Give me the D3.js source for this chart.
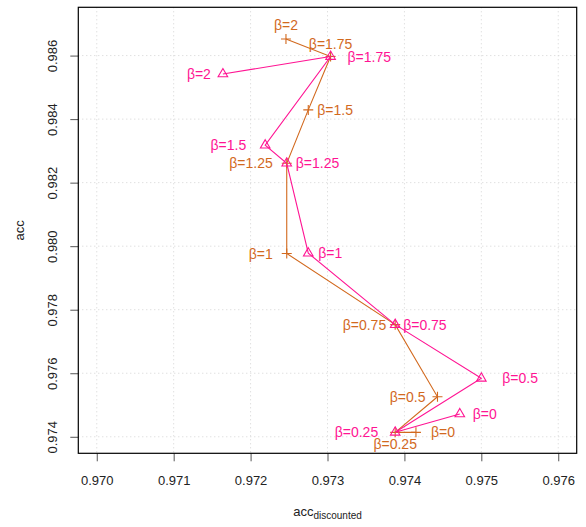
<!DOCTYPE html>
<html>
<head>
<meta charset="utf-8">
<title>acc vs acc discounted</title>
<style>
body { margin: 0; background: white; }
svg text { font-family: 'Liberation Sans', Arial, sans-serif; }
.tick text { font-size: 13px; fill: #222; }
.tick line { stroke: #555; }
.grid line { stroke: #d3d3d3; stroke-dasharray: 1,3; }
.lbl { font-size: 14px; }
.axtitle { font-size: 13px; fill: #222; }
</style>
</head>
<body>
<svg width="586" height="527"></svg>
<script src="https://d3js.org/d3.v7.min.js"></script>
<script>
// beta values and the two series
var betas = ["0", "0.25", "0.5", "0.75", "1", "1.25", "1.5", "1.75", "2"];

var plusX = [0.97415, 0.97388, 0.97443, 0.97388, 0.97247, 0.97247, 0.97275, 0.97304, 0.97246];
var plusY = [0.97414, 0.97414, 0.97526, 0.97753, 0.97977, 0.98261, 0.98429, 0.98597, 0.98652];

var triX = [0.97472, 0.97388, 0.97500, 0.97388, 0.97275, 0.97247, 0.97219, 0.97304, 0.97164];
var triY = [0.97472, 0.97414, 0.97584, 0.97753, 0.97978, 0.98261, 0.98318, 0.98597, 0.98542];

var xTicks = [0.970, 0.971, 0.972, 0.973, 0.974, 0.975, 0.976];
var yTicks = [0.974, 0.976, 0.978, 0.980, 0.982, 0.984, 0.986];

// where each label goes: side (l/r/a/b) and gap in px
var plusLab = [["r", 15], ["b", 12], ["l", 12], ["l", 9], ["l", 14], ["l", 14], ["r", 9], ["a", 13], ["a", 14]];
var triLab = [["r", 13], ["l", 17], ["r", 21], ["r", 8], ["r", 10], ["r", 9], ["l", 19], ["r", 17], ["l", 12]];

var orange = "#d2691e", pink = "#ff1493";

(function () {
var svg = d3.select("svg");
var pl = 78.3, pr = 576.7, pt = 7.3, pb = 453.3;

// R style 4% padding around xlim / ylim
function pad(a, b) { var d = (b - a) * 0.04; return [a - d, b + d]; }
var x = d3.scaleLinear().domain(pad(0.970, 0.976)).range([pl, pr]);
var y = d3.scaleLinear().domain(pad(0.974, 0.987)).range([pb, pt]);

// dotted grid
var grid = svg.append("g").attr("class", "grid");
grid.selectAll(".gx").data(xTicks).enter().append("line")
  .attr("x1", d => x(d)).attr("x2", d => x(d))
  .attr("y1", pt).attr("y2", pb);
grid.selectAll(".gy").data(yTicks).enter().append("line")
  .attr("y1", d => y(d)).attr("y2", d => y(d))
  .attr("x1", pl).attr("x2", pr);

// axes
var xa = svg.append("g")
  .attr("transform", "translate(0," + pb + ")")
  .call(d3.axisBottom(x).tickValues(xTicks).tickFormat(d3.format(".3f")).tickSize(8).tickPadding(14));
xa.select(".domain").remove();

var ya = svg.append("g")
  .attr("transform", "translate(" + pl + ",0)")
  .call(d3.axisLeft(y).tickValues(yTicks).tickFormat(d3.format(".3f")).tickSize(8));
ya.select(".domain").remove();
ya.selectAll(".tick text")
  .attr("transform", "rotate(-90)")
  .attr("x", 0).attr("y", -21)
  .attr("dy", 0)
  .style("text-anchor", "middle");

svg.append("rect")
  .attr("x", pl).attr("y", pt)
  .attr("width", pr - pl).attr("height", pb - pt)
  .attr("fill", "none").attr("stroke", "black").attr("stroke-width", 1.2);

// axis titles
var xt = svg.append("text").attr("class", "axtitle")
  .attr("x", (pl + pr) / 2).attr("y", 515.5)
  .attr("text-anchor", "middle");
xt.append("tspan").text("acc");
xt.append("tspan").attr("dy", 3).style("font-size", "10px").text("discounted");

svg.append("text").attr("class", "axtitle")
  .attr("transform", "translate(24," + (pt + pb) / 2 + ") rotate(-90)")
  .attr("text-anchor", "middle")
  .text("acc");

var line = d3.line().x(d => x(d[0])).y(d => y(d[1]));

function drawSeries(xs, ys, color, shape, place) {
  var pts = xs.map((v, i) => [v, ys[i]]);
  var g = svg.append("g");
  g.append("path").datum(pts)
    .attr("d", line)
    .attr("fill", "none")
    .attr("stroke", color)
    .attr("stroke-width", 1.1);

  g.selectAll(".m").data(pts).enter().append("path")
    .attr("transform", d => "translate(" + x(d[0]) + "," + y(d[1]) + ")")
    .attr("d", shape)
    .attr("fill", "none")
    .attr("stroke", color)
    .attr("stroke-width", 1.1);

  g.selectAll(".lbl").data(pts).enter().append("text")
    .attr("class", "lbl")
    .attr("fill", color)
    .attr("x", function (d, i) {
      var p = place[i];
      if (p[0] == "r") return x(d[0]) + p[1];
      if (p[0] == "l") return x(d[0]) - p[1];
      return x(d[0]);
    })
    .attr("y", function (d, i) {
      var p = place[i];
      if (p[0] == "a") return y(d[1]) - p[1];
      if (p[0] == "b") return y(d[1]) + p[1];
      return y(d[1]);
    })
    .attr("dy", "0.36em")
    .attr("text-anchor", function (d, i) {
      var s = place[i][0];
      return s == "r" ? "start" : s == "l" ? "end" : "middle";
    })
    .text((d, i) => "\u03b2=" + betas[i]);
}

var plus = "M-5,0H5M0,-5V5";
var tri = "M0,-5.5L4.8,2.8L-4.8,2.8Z";

drawSeries(plusX, plusY, orange, plus, plusLab);
drawSeries(triX, triY, pink, tri, triLab);
})();
</script>
</body>
</html>
